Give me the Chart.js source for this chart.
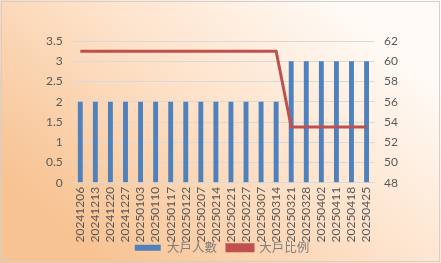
<!DOCTYPE html>
<html>
<head>
<meta charset="utf-8">
<script src="https://cdn.jsdelivr.net/npm/chart.js@4"></script>
<style>
  html, body { margin: 0; padding: 0; background: #fff; }
  #wrap { width: 441px; height: 263px; position: relative; }
</style>
</head>
<body>
<div id="wrap"><canvas id="chart" width="441" height="263"></canvas></div>
<script>
const dates = ["20241206","20241213","20241220","20241227","20250103","20250110","20250117","20250122","20250207","20250214","20250221","20250227","20250307","20250314","20250321","20250328","20250402","20250411","20250418","20250425"];
const holders = [2,2,2,2,2,2,2,2,2,2,2,2,2,2,3,3,3,3,3,3];
const ratio = [61,61,61,61,61,61,61,61,61,61,61,61,61,61,53.5,53.5,53.5,53.5,53.5,53.5];
const leftTicks = [0, 3.5, 0.5];
const rightTicks = [48, 62, 2];

const textColor = "#595959";
const fontFamily = "Lato, 'Noto Sans CJK TC', sans-serif";

// gradient background + thin frame
const bgPlugin = {
  id: "bg",
  beforeDraw(chart) {
    const { ctx, width, height } = chart;
    const g = ctx.createLinearGradient(width * 0.75, 0, width * 0.25, height);
    g.addColorStop(0, "#fffaf5");
    g.addColorStop(0.5, "#fde0c6");
    g.addColorStop(1, "#f7c393");
    ctx.save();
    ctx.fillStyle = g;
    ctx.fillRect(0, 0, width, height);
    ctx.strokeStyle = "#d0d0d0";
    ctx.lineWidth = 1;
    ctx.strokeRect(1.5, 1.5, width - 3, height - 3);
    ctx.restore();
  }
};

// pull the legend up closer to the rotated labels
const legendShift = {
  id: "legendShift",
  afterLayout(chart) {
    chart.legend.top -= 15;
    chart.legend.bottom -= 15;
  }
};

new Chart(document.getElementById("chart").getContext("2d"), {
  data: {
    labels: dates,
    datasets: [
      {
        type: "line",
        label: "大戶比例",
        data: ratio,
        yAxisID: "y2",
        borderColor: "#c0504d",
        backgroundColor: "#c0504d",
        borderWidth: 3,
        pointRadius: 0,
        tension: 0,
        order: 0
      },
      {
        type: "bar",
        label: "大戶人數",
        data: holders,
        yAxisID: "y",
        backgroundColor: "#4f81bd",
        barPercentage: 0.65,
        categoryPercentage: 0.5,
        order: 1
      }
    ]
  },
  options: {
    responsive: false,
    animation: false,
    layout: { padding: { left: 36, right: 33, top: 41, bottom: -16 } },
    plugins: {
      legend: {
        position: "bottom",
        reverse: true,
        labels: {
          color: "#7f7f7f",
          boxWidth: 26,
          boxHeight: 6,
          padding: 10,
          font: { family: fontFamily, size: 12.5 }
        }
      },
      tooltip: { enabled: false }
    },
    scales: {
      x: {
        grid: { display: false, drawTicks: false },
        border: { color: "#d9d9d9" },
        ticks: {
          color: textColor,
          maxRotation: 90,
          minRotation: 90,
          autoSkip: false,
          padding: 4,
          font: { family: fontFamily, size: 12 }
        }
      },
      y: {
        position: "left",
        min: leftTicks[0],
        max: leftTicks[1],
        grid: { color: "#d9d9d9", drawTicks: false },
        border: { display: false },
        ticks: {
          stepSize: leftTicks[2],
          color: textColor,
          padding: 10,
          font: { family: fontFamily, size: 12 },
          callback: v => String(v)
        }
      },
      y2: {
        position: "right",
        min: rightTicks[0],
        max: rightTicks[1],
        grid: { display: false, drawTicks: false },
        border: { display: false },
        ticks: {
          stepSize: rightTicks[2],
          color: textColor,
          padding: 10,
          font: { family: fontFamily, size: 12 }
        }
      }
    }
  },
  plugins: [bgPlugin, legendShift]
});
</script>
</body>
</html>
